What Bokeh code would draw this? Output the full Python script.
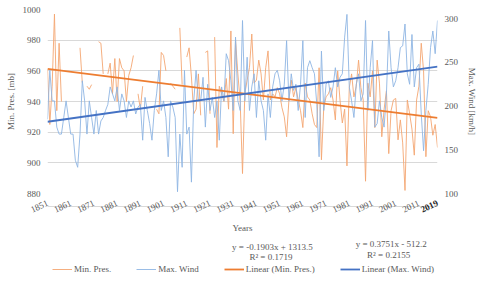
import math
import numpy as np
from bokeh.plotting import figure
from bokeh.layouts import column
from bokeh.models import (Range1d, LinearAxis, FixedTicker, Label, Legend,
                          LegendItem, ColumnDataSource)
from bokeh.embed import file_html
from bokeh.resources import INLINE

# ---------------- data ----------------
YEARS = list(range(1851, 2020))

MIN_PRES = [
    961, 925, 950, 997, 934, 978, 940, None, None, None,            # 1851-1860
    None, None, None, None, 975, 952, None, 950, 948, 951,          # 1861-1870
    None, None, 979, 978, 958, None, 958, 965, 945, 968,            # 1871-1880
    940, 968, 962, 960, 940, 957, 962, 970, None, 945,              # 1881-1890
    935, 950, None, None, None, None, None, 935, 932, 972,          # 1891-1900
    970, 960, None, 952, 950, 948, None, 988, 951, None,            # 1901-1910
    969, 975, 956, 932, 935, 958, 931, None, 972, 973,              # 1911-1920
    932, None, 982, 910, 950, 945, 940, 955, 935, 986,              # 1921-1930
    919, 980, 958, 940, 893, 945, 954, 962, 984, 952,               # 1931-1940
    954, 967, 958, 941, 962, 973, 941, 945, 943, 949,               # 1941-1950
    945, 936, 930, 917, 941, 954, 943, 949, 941, 934,               # 1951-1960
    923, 952, 943, 941, 932, 925, 923, 962, 902, 936,               # 1961-1970
    943, 945, 949, 941, 928, 960, 941, 926, 935, 898,               # 1971-1980
    949, 958, 943, 950, 967, 949, 941, 888, 952, 943,               # 1981-1990
    960, 923, 967, 952, 917, 935, 947, 906, 934, 941,               # 1991-2000
    942, 915, 928, 913, 882, 941, 932, 922, 905, 941,               # 2001-2010
    950, 978, 960, 904, 934, 930, 918, 925, 910,                    # 2011-2019
]

MAX_WIND = [
    185, 241, 206, 206, 176, 168, 168, 187, 206, 187,               # 1851-1860
    168, 168, 138, 130, 168, 229, 206, 168, 206, 187,               # 1861-1870
    168, 195, 168, 183, 187, 195, 202, 222, 214, 206,               # 1871-1880
    222, 195, 214, 206, 187, 206, 199, 206, 191, 199,               # 1881-1890
    202, 161, 210, 195, 180, 161, 195, 214, 241, 195,               # 1891-1900
    206, 187, 142, 206, 199, 187, 102, 168, 130, 241,               # 1901-1910
    168, 176, 113, 206, 241, 206, 206, 233, 176, 225,               # 1911-1920
    195, 210, 187, 206, 161, 222, 206, 260, 252, 229,               # 1921-1930
    195, 279, 206, 195, 298, 206, 256, 195, 222, 237,               # 1931-1940
    187, 229, 206, 195, 161, 214, 187, 222, 237, 241,               # 1941-1950
    229, 206, 225, 275, 206, 237, 218, 225, 195, 225,               # 1951-1960
    275, 187, 244, 252, 244, 237, 202, 142, 263, 195,               # 1961-1970
    225, 229, 210, 222, 244, 222, 233, 237, 279, 305,               # 1971-1980
    222, 206, 187, 225, 237, 206, 214, 298, 195, 244,               # 1981-1990
    275, 176, 180, 206, 187, 176, 214, 286, 244, 222,               # 1991-2000
    229, 244, 267, 269, 294, 237, 225, 282, 222, 244,               # 2001-2010
    248, 191, 149, 195, 225, 267, 286, 260, 298,                    # 2011-2019
]

X_TICKS = list(range(1851, 2012, 10))
LAST_YEAR = 2019
P_TICKS = [880, 900, 920, 940, 960, 980, 1000]
W_TICKS = [100, 150, 200, 250, 300]

# Excel linear trendlines: (slope, intercept, R^2)
TREND_P = (-0.1903, 1313.5, 0.1719)
TREND_W = (0.3751, -512.2, 0.2155)

SERIES_NAMES = ["Min. Pres.", "Max. Wind", "Linear (Min. Pres.)", "Linear (Max. Wind)"]

# ---------------- style ----------------
FONT = "Liberation Serif"
TXT = "#595959"
FS = "9px"
C_P_LIGHT = "#F4A672"
C_W_LIGHT = "#8FB5E3"
C_P = "#ED7D31"
C_W = "#4472C4"
W = 480
LEFT, RIGHT = 47, 42          # side borders (px) -> frame spans x 47..438

years = np.array(YEARS, dtype=float)
pres = np.array([np.nan if v is None else v for v in MIN_PRES], dtype=float)
wind = np.array([np.nan if v is None else v for v in MAX_WIND], dtype=float)

# ---------------- main chart ----------------
p = figure(width=W, height=236, output_backend="svg", toolbar_location=None,
           x_range=Range1d(1851, 2019), y_range=Range1d(880, 1000),
           min_border_left=LEFT, min_border_right=RIGHT, min_border_top=9,
           min_border_bottom=43)
p.outline_line_color = None
p.extra_y_ranges = {"wind": Range1d(100, 310.6)}

p.xgrid.visible = False
p.ygrid.grid_line_color = "#D9D9D9"
p.ygrid.grid_line_width = 1

def style_axis(ax):
    ax.major_tick_line_color = None
    ax.minor_tick_line_color = None
    ax.major_tick_out = 0
    ax.major_tick_in = 0
    ax.minor_tick_out = 0
    ax.minor_tick_in = 0
    ax.major_label_text_font = FONT
    ax.major_label_text_font_size = FS
    ax.major_label_text_color = TXT
    ax.axis_label_text_font = FONT
    ax.axis_label_text_font_size = FS
    ax.axis_label_text_color = TXT
    ax.axis_label_text_font_style = "normal"

ly = p.yaxis[0]
ly.ticker = FixedTicker(ticks=P_TICKS)
ly.axis_line_color = None
ly.axis_label = "Min. Pres. [mb]"
ly.major_label_standoff = 7
ly.axis_label_standoff = 4
style_axis(ly)

ry = LinearAxis(y_range_name="wind", ticker=FixedTicker(ticks=W_TICKS),
                axis_label="Max. Wind [km/h]")
ry.axis_line_color = None
ry.major_label_standoff = 7
ry.axis_label_standoff = 6
style_axis(ry)
p.add_layout(ry, "right")

xa = p.xaxis[0]
xa.ticker = FixedTicker(ticks=X_TICKS)
xa.axis_line_color = "#D9D9D9"
xa.major_label_orientation = math.radians(25)
xa.axis_label = "Years"
xa.axis_label_standoff = 4
style_axis(xa)

# last year's tick label (bold), placed in the bottom panel next to the axis
last_lbl = Label(x=LAST_YEAR, y=P_TICKS[0] - 9 / 1.5333, x_units="data", y_units="data",
                 text=str(LAST_YEAR), angle=math.radians(25),
                 text_align="right", text_baseline="middle",
                 text_font=FONT, text_font_size=FS, text_color="#262626",
                 text_font_style="bold")
# the label's slot comes first, so the axis labels are pulled back by its size
xa.major_label_standoff = -4
p.below = [last_lbl, xa]

src = ColumnDataSource(dict(year=years, pres=pres, wind=wind))
r1 = p.line("year", "pres", source=src, color=C_P_LIGHT, line_width=0.9)
r2 = p.line("year", "wind", source=src, color=C_W_LIGHT, line_width=0.9,
            y_range_name="wind")
tx = np.array([YEARS[0], YEARS[-1]], dtype=float)
r3 = p.line(tx, TREND_P[0] * tx + TREND_P[1], color=C_P, line_width=1.8)
r4 = p.line(tx, TREND_W[0] * tx + TREND_W[1], color=C_W, line_width=1.8,
            y_range_name="wind")

# ---------------- equations + legend strip ----------------
q = figure(width=W, height=47, output_backend="svg", toolbar_location=None,
           x_range=Range1d(LEFT, W - RIGHT), y_range=Range1d(283, 236),
           x_axis_type=None, y_axis_type=None,
           min_border_left=LEFT, min_border_right=RIGHT, min_border_top=0,
           min_border_bottom=0)
q.outline_line_color = None
q.xgrid.visible = False
q.ygrid.visible = False

styles = [(C_P_LIGHT, 0.9), (C_W_LIGHT, 0.9), (C_P, 1.8), (C_W, 1.8)]
# legend proxies (no visible data) styled like the chart's four lines
dummies = [q.line(x=[np.nan, np.nan], y=[np.nan, np.nan], color=c, line_width=w)
           for c, w in styles]
legend = Legend(items=[LegendItem(label=n, renderers=[r]) for n, r in
                       zip(SERIES_NAMES, dummies)],
                orientation="horizontal", location=(5, 9),
                spacing=25, glyph_width=20, glyph_height=10, label_height=10,
                label_standoff=2, padding=0, margin=0,
                border_line_color=None, background_fill_alpha=0,
                label_text_font=FONT, label_text_font_size=FS,
                label_text_color=TXT)
q.add_layout(legend)

def eq_text(t):
    sign = "+" if t[1] >= 0 else "-"
    return f"y = {t[0]:.4f}x {sign} {abs(t[1])}", f"R\u00b2 = {t[2]}"

for t, pos in [(TREND_P, ((272.5, 246), (271, 256))),
               (TREND_W, ((391.7, 243.3), (389, 254)))]:
    for txt, (xx, yy) in zip(eq_text(t), pos):
        q.add_layout(Label(x=xx, y=yy, text=txt, text_align="center",
                           text_baseline="middle", text_font=FONT,
                           text_font_size=FS, text_color=TXT))

open("out.html", "w").write(file_html(column(p, q, spacing=0), INLINE))
